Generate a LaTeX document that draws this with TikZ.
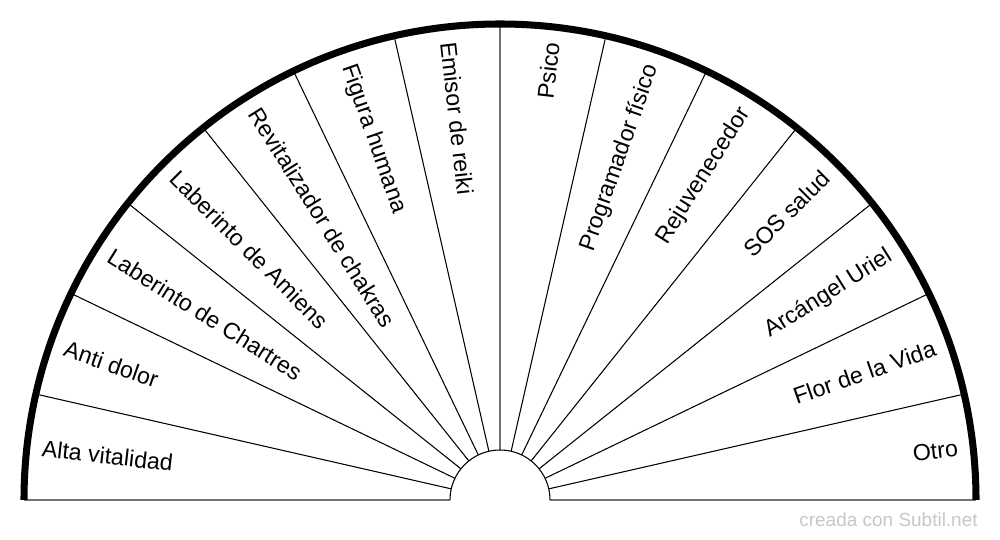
\documentclass[tikz,border=0pt]{standalone}
\usepackage{fontspec}
\setmainfont{Liberation Sans}
\usepackage{tikz}
\begin{document}
\begin{tikzpicture}[x=0.02cm,y=0.02cm,
  ray/.style={line width=0.6pt,color=black},
  axisray/.style={line width=0.9pt,color=black!55},
  rimarc/.style={line width=4pt,color=black},
  rtext/.style={font=\fontsize{13.2}{15}\selectfont,inner sep=0pt,anchor=east},
  ltext/.style={font=\fontsize{13.2}{15}\selectfont,inner sep=0pt,anchor=west}]
\useasboundingbox (0,0) rectangle (1000,540);
\begin{scope}[shift={(500,40)}]
\draw [axisray] (180:476)--(180:50); \draw [axisray] (0:50)--(0:476);
\draw [ray] (12.8571:50)--(12.8571:476); \draw [ray] (25.7143:50)--(25.7143:476);
\draw [ray] (38.5714:50)--(38.5714:476); \draw [ray] (51.4286:50)--(51.4286:476);
\draw [ray] (64.2857:50)--(64.2857:476); \draw [ray] (77.1429:50)--(77.1429:476);
\draw [axisray] (90:50)--(90:476);
\draw [ray] (102.8571:50)--(102.8571:476); \draw [ray] (115.7143:50)--(115.7143:476);
\draw [ray] (128.5714:50)--(128.5714:476); \draw [ray] (141.4286:50)--(141.4286:476);
\draw [ray] (154.2857:50)--(154.2857:476); \draw [ray] (167.1429:50)--(167.1429:476);
\draw [ray] (0:50) arc[start angle=0,end angle=180,radius=50];
\draw [rimarc] (180:476) arc[start angle=180,end angle=0,radius=476];
% right half
\node [rtext,rotate=6.4286] (otro) at (6.4286:461) {Otro};
\node [rtext,rotate=19.2857] (flor) at (19.2857:461) {Flor de la Vida};
\node [rtext,rotate=32.1429] (uriel) at (32.1429:461) {Arcángel Uriel};
\node [rtext,rotate=45] (sos) at (45:461) {SOS salud};
\node [rtext,rotate=57.8571] (rejuv) at (57.8571:461) {Rejuvenecedor};
\node [rtext,rotate=70.7143] (prog) at (70.7143:461) {Programador físico};
\node [rtext,rotate=83.5714] (psico) at (83.5714:461) {Psico};
% left half
\node [ltext,rotate=-83.5714] (emisor) at (96.4286:461) {Emisor de reiki};
\node [ltext,rotate=-70.7143] (figura) at (109.2857:461) {Figura humana};
\node [ltext,rotate=-57.8571] (revital) at (122.1429:461) {Revitalizador de chakras};
\node [ltext,rotate=-45] (amiens) at (135:461) {Laberinto de Amiens};
\node [ltext,rotate=-32.1429] (chartres) at (147.8571:461) {Laberinto de Chartres};
\node [ltext,rotate=-19.2857] (antidolor) at (160.7143:461) {Anti dolor};
\node [ltext,rotate=-6.4286] (alta) at (173.5714:461) {Alta vitalidad};
\end{scope}
\node [font=\fontsize{10.8}{13}\selectfont,color=black!22,inner sep=0pt,anchor=base east] (firma) at (978,13) {creada con Subtil.net};
\end{tikzpicture}
\end{document}
